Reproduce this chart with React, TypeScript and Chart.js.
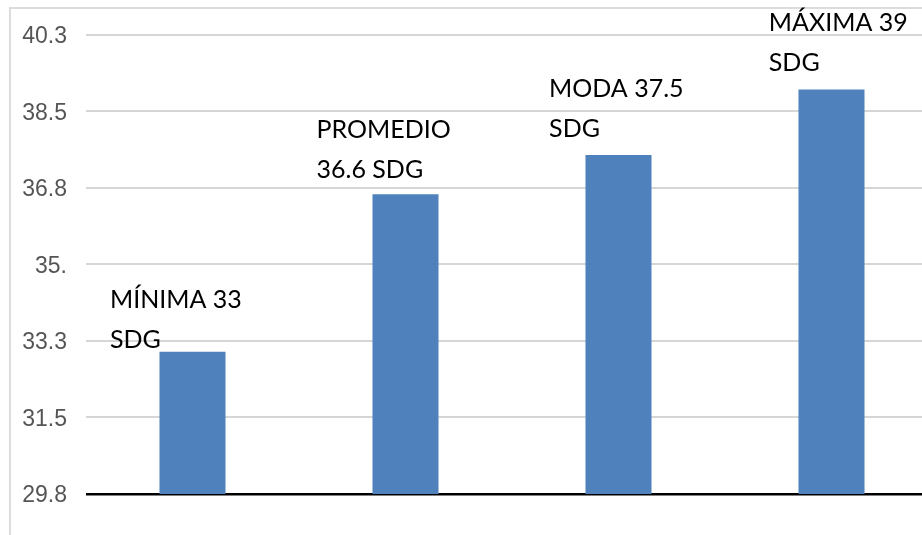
import React, { useEffect, useRef } from "react";
import { Chart, registerables } from "chart.js";

Chart.register(...registerables);

// Gestational-age summary (semanas de gestación)
const categories = ["MÍNIMA", "PROMEDIO", "MODA", "MÁXIMA"];
const values = [33, 36.6, 37.5, 39];
// whether the value goes on the second line together with "SDG"
const valueOnSecondLine = [false, true, false, false];

const yMin = 29.75;
const yMax = 40.25;
const yStep = 1.75;
const yTickLabels = ["29.8", "31.5", "33.3", "35.", "36.8", "38.5", "40.3"];

// label placement relative to each bar's centre / top (px)
const labelOffsets = [
  [-82.5, -43.5],
  [-89, -56.7],
  [-69.4, -58.3],
  [-62.7, -58.7],
];
const labelLineGap = 40;

const BAR_COLOR = "#4F81BD";

function labelLines(i: number): string[] {
  const name = categories[i];
  const v = String(values[i]);
  return valueOnSecondLine[i] ? [name, `${v} SDG`] : [`${name} ${v}`, "SDG"];
}

const barLabels = {
  id: "barLabels",
  afterDatasetsDraw(chart: any) {
    const ctx = chart.ctx;
    const meta = chart.getDatasetMeta(0);
    ctx.save();
    ctx.fillStyle = "#000000";
    ctx.font = "25px Lato";
    ctx.textAlign = "left";
    ctx.textBaseline = "alphabetic";
    meta.data.forEach((bar: any, i: number) => {
      const [dx, dy] = labelOffsets[i];
      labelLines(i).forEach((line, k) => {
        ctx.fillText(line, bar.x + dx, bar.y + dy + k * labelLineGap);
      });
    });
    ctx.restore();
  },
};

export default function App() {
  const canvasRef = useRef<HTMLCanvasElement | null>(null);

  useEffect(() => {
    if (!canvasRef.current) return;
    const chart = new Chart(canvasRef.current, {
      type: "bar",
      data: {
        labels: categories,
        datasets: [
          {
            data: values,
            backgroundColor: BAR_COLOR,
            borderWidth: 0,
            barPercentage: 0.31,
            categoryPercentage: 1,
          },
        ],
      },
      options: {
        responsive: false,
        animation: false,
        layout: { padding: { left: 0, right: 22, top: 34.7, bottom: 41 } },
        plugins: { legend: { display: false }, tooltip: { enabled: false } },
        scales: {
          x: { display: false },
          y: {
            min: yMin,
            max: yMax,
            afterFit(scale: any) {
              scale.width = 86;
            },
            border: { display: false },
            grid: {
              drawTicks: false,
              color: (c: any) => (c.tick && c.tick.value === yMin ? "#000000" : "#d6d6d6"),
              lineWidth: (c: any) => (c.tick && c.tick.value === yMin ? 2.5 : 2),
            },
            ticks: {
              stepSize: yStep,
              padding: 19,
              labelOffset: 2,
              color: "#555555",
              font: { family: "'Liberation Sans', Arial, sans-serif", size: 23 },
              callback: (_v: any, i: number) => yTickLabels[i],
            },
          },
        },
      },
      plugins: [barLabels],
    });
    return () => chart.destroy();
  }, []);

  return (
    <div
      style={{
        position: "fixed",
        left: 0,
        top: 0,
        width: 922,
        height: 535,
        overflow: "hidden",
        background: "#ffffff",
      }}
    >
      <div
        style={{
          position: "absolute",
          left: 9,
          top: 7,
          width: 1000,
          height: 600,
          borderTop: "2px solid #dcdcdc",
          borderLeft: "2px solid #dcdcdc",
        }}
      />
      <canvas
        ref={canvasRef}
        width={960}
        height={535}
        style={{ position: "absolute", left: 0, top: 0, width: 960, height: 535 }}
      />
    </div>
  );
}
